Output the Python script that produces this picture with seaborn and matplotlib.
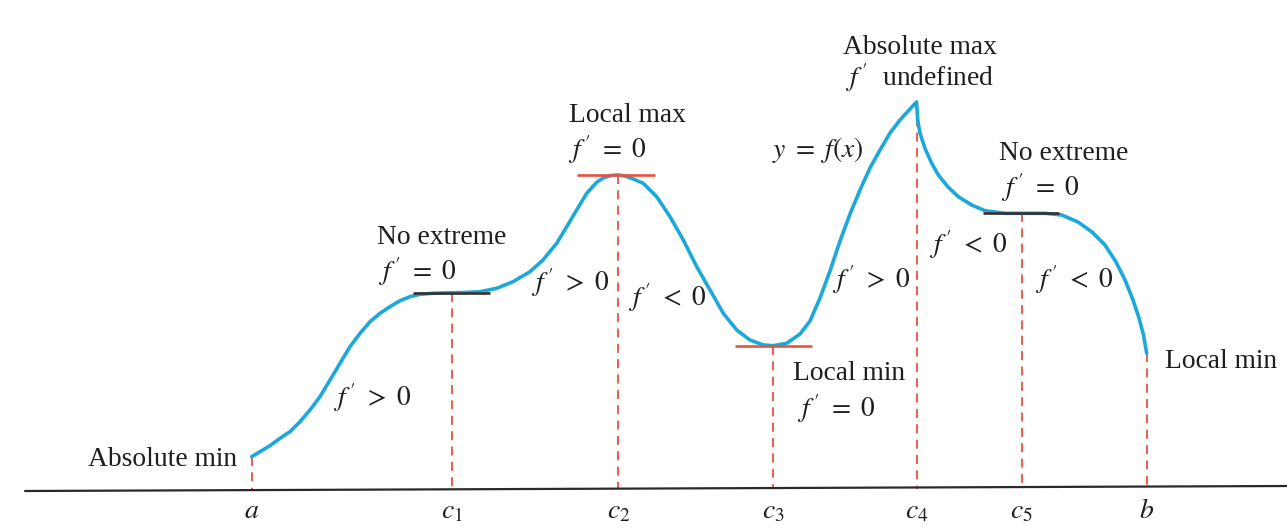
import numpy as np
import pandas as pd
import matplotlib
matplotlib.use("Agg")
import matplotlib.pyplot as plt
import seaborn as sns

# curve y = f(x) (pixel space, y grows downward)
curve_x = [251.7, 260, 270, 280, 290, 300, 310, 320, 330, 340, 350, 360, 370, 380, 390, 400,
           410, 420, 433, 450, 465, 480, 496.7, 513, 530, 543, 556.7, 566.7, 576.7, 586.7,
           597, 604, 611, 618.3, 625, 632, 643.3, 656.7, 670, 683.3, 696.7, 710, 723.3,
           736.7, 750, 763.3, 773.3, 786.7, 800, 810, 820, 830, 840, 850, 860, 870, 880,
           890, 900, 910, 916.5, 917.7, 920, 925, 931.7, 938.3, 948.3, 958.3, 971.7, 985,
           1005, 1021.7, 1045, 1061.7, 1078, 1092, 1105, 1116, 1125, 1133, 1139, 1143.5,
           1146.7]
curve_y = [456.7, 451.7, 445.7, 438.3, 431.7, 421.7, 410, 396.7, 380, 363.3, 346.7, 333.3,
           321.7, 313.3, 306.7, 300.7, 296.7, 294.3, 293.3, 292.8, 292.5, 291.7, 288.3, 281.7,
           271.7, 260, 243.3, 226.7, 210, 193.3, 182, 177.5, 175.5, 175, 176, 178.5, 183.3,
           196.7, 216.7, 240, 266.7, 290, 313.3, 330, 340, 345, 345.7, 343.3, 334, 321, 298,
           271, 241, 214, 190, 168, 150, 133, 120, 109, 102, 120, 133.3, 148.3, 163.3, 175,
           187.3, 196.7, 205, 210.7, 213.3, 213.3, 213.3, 215, 222, 232, 245, 262, 280, 300,
           318, 335, 353.3]

# points a, c1..c5, b
crit_labels = ["$a$", "$c_1$", "$c_2$", "$c_3$", "$c_4$", "$c_5$", "$b$"]
crit_x = [251.7, 452, 618.3, 773.3, 916.5, 1021.7, 1146.7]
crit_y = [456.7, 292.8, 175, 345.7, 102, 213.3, 353.3]

# horizontal tangents where f' = 0
tan_y = [292.8, 175, 345.7, 213.3]
tan_x0 = [413, 577, 735, 983]
tan_x1 = [490, 655, 812, 1059]
tan_colors = ["#3a2e2e", "#e8533f", "#e8533f", "#3a2e2e"]

axis_x = [25, 1287]
axis_y = [491, 486]

notes = [
    ("Absolute min", 88, 459, "left"),
    ("No extreme", 442, 238, "center"),
    (r"$f^{\,\prime}\ =\ 0$", 417, 272, "center"),
    (r"$f^{\,\prime}\ >\ 0$", 372, 398, "center"),
    (r"$f^{\,\prime}\ >\ 0$", 570, 283, "center"),
    ("Local max", 627, 115, "center"),
    (r"$f^{\,\prime}\ =\ 0$", 607, 150, "center"),
    (r"$f^{\,\prime}\ <\ 0$", 667, 298, "center"),
    (r"$y\ =\ f(x)$", 818, 150, "center"),
    ("Absolute max", 920, 47, "center"),
    (r"$f^{\,\prime}$  undefined", 920, 78, "center"),
    ("No extreme", 1064, 153, "center"),
    (r"$f^{\,\prime}\ =\ 0$", 1040, 188, "center"),
    (r"$f^{\,\prime}\ <\ 0$", 968, 245, "center"),
    (r"$f^{\,\prime}\ >\ 0$", 871, 280, "center"),
    (r"$f^{\,\prime}\ <\ 0$", 1074, 280, "center"),
    ("Local min", 793, 374, "left"),
    (r"$f^{\,\prime}\ =\ 0$", 797, 409, "left"),
    ("Local min", 1165, 361, "left"),
]

sns.set_theme(style="white")
plt.rcParams["font.family"] = ["Liberation Serif", "DejaVu Serif"]
plt.rcParams["mathtext.fontset"] = "stix"

fig = plt.figure(figsize=(12.87, 5.29), dpi=100)
ax = fig.add_axes([0, 0, 1, 1])
ax.set_xlim(0, 1287)
ax.set_ylim(529, 0)
ax.axis("off")

ink = "#1e1e1e"
red = "#e8533f"

# axis line
ax.plot(axis_x, axis_y, color="#2a2a2a", lw=1.6, zorder=2)

# dashed drop lines to the axis
ax.vlines(crit_x, crit_y, 489, colors=red, linestyles=(0, (5, 3.5)), lw=1.3, zorder=1)

df = pd.DataFrame({"x": curve_x, "y": curve_y})
sns.lineplot(data=df, x="x", y="y", sort=False, estimator=None, color="#1da8da",
             lw=2.6, ax=ax, zorder=3)
ax.lines[-1].set_solid_joinstyle("round")
ax.lines[-1].set_solid_capstyle("round")

ax.hlines(tan_y, tan_x0, tan_x1, colors=tan_colors, lw=1.9, zorder=4)

for txt, x, y, ha in notes:
    ax.text(x, y, txt, ha=ha, va="center", fontsize=19.8, color=ink)

for lab, x in zip(crit_labels, crit_x):
    ax.text(x, 518, lab, ha="center", va="baseline", fontsize=20, color=ink)

ax.set_xlabel("")
ax.set_ylabel("")
fig.savefig("out.png", dpi=100, facecolor="white")
